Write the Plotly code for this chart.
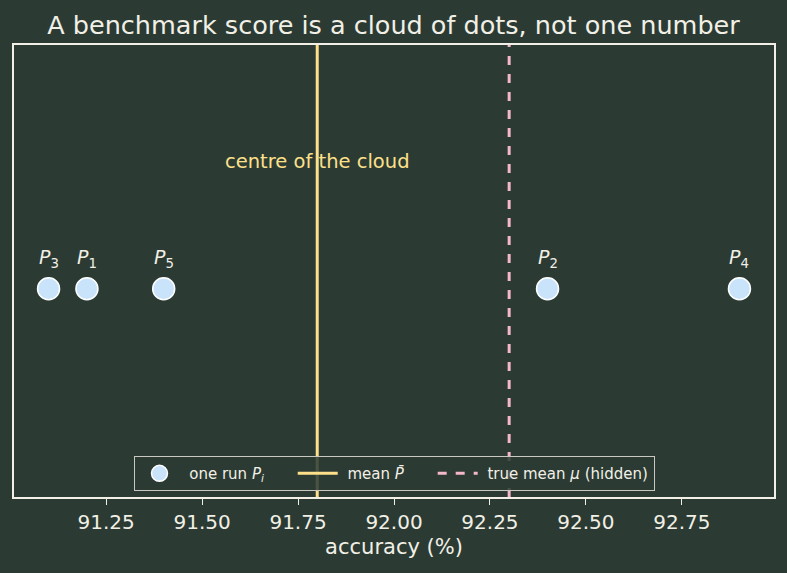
import plotly.graph_objects as go

runs = [91.2, 92.4, 91.1, 92.9, 91.4]
run_labels = ["P1", "P2", "P3", "P4", "P5"]
mean_val = sum(runs) / len(runs)
true_mean = 92.3
x_ticks = [91.25, 91.50, 91.75, 92.00, 92.25, 92.50, 92.75]

BG = "#2b3b34"
FG = "#f2f0e6"
DOT = "#c9e3fb"
GOLD = "#ffe08a"
PINK = "#f5b8c8"

y_lo, y_hi = -1.0, 1.17
PAD = "&nbsp;" * 5

fig = go.Figure()
fig.add_trace(go.Scatter(
    x=runs, y=[0] * len(runs), mode="markers",
    marker=dict(size=22, color=DOT, line=dict(color="white", width=1.5)),
    name="&nbsp;one run <i>P<sub>i</sub></i>" + PAD))
fig.add_trace(go.Scatter(
    x=[mean_val, mean_val], y=[y_lo, y_hi], mode="lines",
    line=dict(color=GOLD, width=3), name="&nbsp;mean <i>P̄</i>" + PAD))
fig.add_trace(go.Scatter(
    x=[true_mean, true_mean], y=[y_lo, y_hi], mode="lines",
    line=dict(color=PINK, width=3, dash="dash"), name="&nbsp;true mean <i>μ</i> (hidden)"))

for xv, lab in zip(runs, run_labels):
    fig.add_annotation(x=xv, y=0, text="<i>P</i><sub>%s</sub>" % lab[1:],
                       showarrow=False, yshift=30,
                       font=dict(size=19, color=FG))

fig.add_annotation(x=mean_val, y=0.613, text="centre of the cloud",
                   showarrow=False, font=dict(size=19.5, color=GOLD))

fig.update_layout(
    width=787, height=573,
    paper_bgcolor=BG, plot_bgcolor=BG,
    margin=dict(l=14, r=13, t=45, b=76),
    font=dict(family="DejaVu Sans", color=FG, size=16),
    title=dict(text="A benchmark score is a cloud of dots, not one number",
               x=0.5, xanchor="center", y=0.957, yanchor="middle",
               font=dict(size=25.5, color=FG)),
    showlegend=True,
    legend=dict(orientation="h", x=0.5, xanchor="center", y=0.013, yanchor="bottom",
                bgcolor="rgba(43,59,52,0.85)", bordercolor="#c8c8c0", borderwidth=1,
                font=dict(size=15, color=FG), itemwidth=40),
)
fig.update_xaxes(range=[91.01, 92.99], tickvals=x_ticks,
                 ticktext=["%.2f" % v for v in x_ticks],
                 ticks="outside", ticklen=6, tickcolor=FG, tickwidth=1,
                 showgrid=False, zeroline=False,
                 showline=True, linecolor=FG, linewidth=2, mirror=True,
                 title=dict(text="accuracy (%)", font=dict(size=21, color=FG), standoff=6),
                 tickfont=dict(size=20, color=FG))
fig.update_yaxes(range=[y_lo, y_hi], showticklabels=False, ticks="",
                 showgrid=False, zeroline=False,
                 showline=True, linecolor=FG, linewidth=2, mirror=True)

fig.write_html("out.html")
